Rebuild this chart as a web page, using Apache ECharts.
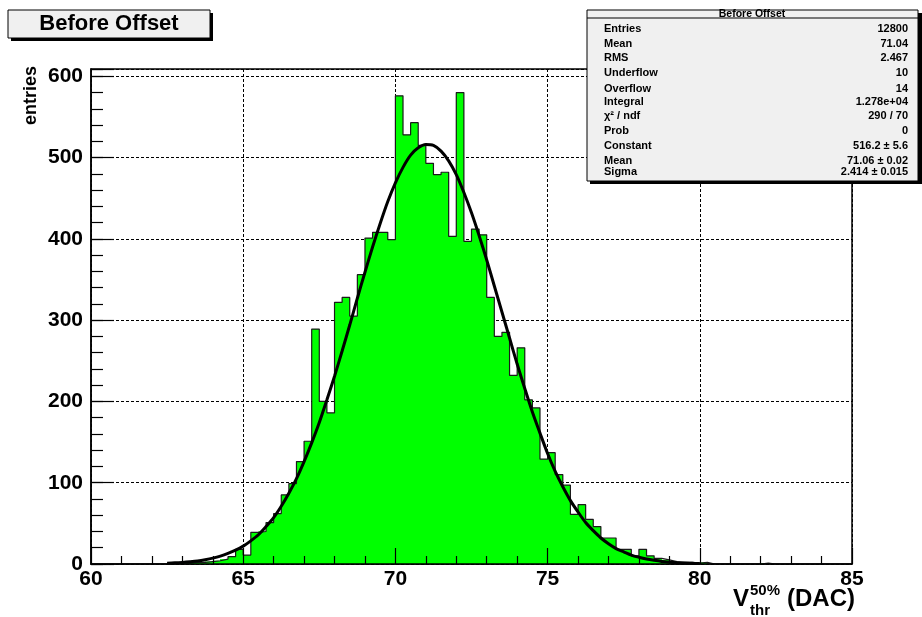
<!DOCTYPE html>
<html><head><meta charset="utf-8">
<script src="https://cdn.jsdelivr.net/npm/echarts@6/dist/echarts.min.js"></script>
<style>html,body{margin:0;padding:0;background:#fff}#c{width:922px;height:617px}</style>
</head><body><div id="c"></div>
<script>
// ---- data ----
const binLowEdge = 60;
const binWidth = 0.25;
const binCounts = [
  0,0,0,0,0,0,0,0,0,0,
  1,1,1,2,2,3,4,6,9,18,
  11,39,40,51,62,85,99,126,151,289,
  200,186,322,328,305,356,401,408,408,399,
  576,528,543,515,493,479,482,403,580,397,
  412,405,328,280,285,232,266,202,192,129,
  137,110,97,61,73,55,46,32,32,18,
  18,10,18,10,7,5,3,2,2,1,
  2,0,0,0,0,0,0,0,1,0,
  0,0,0,0,0,0,0,0,0,0
];
const xTickValues = [60, 65, 70, 75, 80, 85];
const yTickValues = [0, 100, 200, 300, 400, 500, 600];
// fit curve (x, entries)
const fitX = [62.5,62.75,63,63.25,63.5,63.75,64,64.25,64.5,64.75,65,65.25,65.5,65.75,66,66.25,66.5,66.75,67,67.25,67.5,67.75,68,68.25,68.5,68.75,69,69.25,69.5,69.75,70,70.25,70.5,70.75,71,71.25,71.5,71.75,72,72.25,72.5,72.75,73,73.25,73.5,73.75,74,74.25,74.5,74.75,75,75.25,75.5,75.75,76,76.25,76.5,76.75,77,77.25,77.5,77.75,78,78.25,78.5,78.75,79,79.25,79.5,79.75,80];
const fitY = [1,1.4,2,2.8,3.8,5.3,7.2,9.7,13,17,22,28.5,36,46,57,71,87,105,126,149,174,202,231,262,294,327,359,390,419,446,469,488,503,512,516,515,508,496,479,457,432,404,374,342,310,278,246,216,187,161,136,114,95,78,64,51,41,32,25,19,15,11,8.3,6.1,4.5,3.2,2.3,1.6,1.1,0.8,0.5];
const titleText = 'Before Offset';
const statsLabels = ['Entries','Mean','RMS','Underflow','Overflow','Integral','\u03c7\u00b2 / ndf','Prob','Constant','Mean','Sigma'];
const statsValues = ['12800','71.04','2.467','10','14','1.278e+04','290 / 70','0','516.2 \u00b1 5.6','71.06 \u00b1 0.02','2.414 \u00b1 0.015'];
const statsRowY = [29,44,57.5,73,88.5,102,116,131,146,161,172];

// ---- build ----
const histData = binCounts.map((c, i) => [binLowEdge + i * binWidth, c]);
const xMax = binLowEdge + binCounts.length * binWidth;
const outlineData = histData.concat([[xMax, binCounts[binCounts.length - 1]]]);
const fitData = fitX.map((x, i) => [x, fitY[i]]);
const yMax = Math.max(...binCounts) * 1.05;

const FONT = '"Liberation Sans", Arial, Helvetica, sans-serif';
const chart = echarts.init(document.getElementById('c'), null, {renderer: 'canvas'});

const graphic = [
  {type:'rect', z:100, shape:{x:11,y:13,width:202,height:28}, style:{fill:'#000'}},
  {type:'rect', z:101, shape:{x:8,y:10,width:202,height:28}, style:{fill:'#f0f0f0', stroke:'#000', lineWidth:1}},
  {type:'text', z:102, x:109, y:24, style:{text:titleText, font:'bold 22px ' + FONT, fill:'#000', align:'center', verticalAlign:'middle'}},
  {type:'rect', z:100, shape:{x:590,y:13,width:332,height:171}, style:{fill:'#000'}},
  {type:'rect', z:101, shape:{x:587,y:10,width:331,height:171}, style:{fill:'#f0f0f0', stroke:'#000', lineWidth:1}},
  {type:'line', z:102, shape:{x1:587,y1:18,x2:918,y2:18}, style:{stroke:'#000', lineWidth:1}},
  {type:'text', z:102, x:752, y:14, style:{text:titleText, font:'bold 10.5px ' + FONT, fill:'#000', align:'center', verticalAlign:'middle'}},
  // y axis title
  {type:'text', z:102, x:31, y:66, rotation:Math.PI/2, style:{text:'entries', font:'bold 18px ' + FONT, fill:'#000', align:'right', verticalAlign:'middle'}},
  // x axis title
  {type:'text', z:102, x:733, y:599, style:{text:'V', font:'bold 24px ' + FONT, fill:'#000', align:'left', verticalAlign:'middle'}},
  {type:'text', z:102, x:750, y:591, style:{text:'50%', font:'bold 15px ' + FONT, fill:'#000', align:'left', verticalAlign:'middle'}},
  {type:'text', z:102, x:750, y:611, style:{text:'thr', font:'bold 15px ' + FONT, fill:'#000', align:'left', verticalAlign:'middle'}},
  {type:'text', z:102, x:787, y:599, style:{text:'(DAC)', font:'bold 24px ' + FONT, fill:'#000', align:'left', verticalAlign:'middle'}}
];
statsLabels.forEach((t, i) => {
  graphic.push({type:'text', z:102, x:604, y:statsRowY[i], style:{text:t, font:'bold 11px ' + FONT, fill:'#000', align:'left', verticalAlign:'middle'}});
  graphic.push({type:'text', z:102, x:908, y:statsRowY[i], style:{text:statsValues[i], font:'bold 11px ' + FONT, fill:'#000', align:'right', verticalAlign:'middle'}});
});

const splitStyle = {show:true, lineStyle:{color:'#000', width:1, type:[3,2]}};
const labelStyle = {color:'#000', fontFamily:FONT, fontWeight:'bold', fontSize:21};

chart.setOption({
  animation:false,
  backgroundColor:'#fff',
  grid:{left:91, top:69, width:761, height:495, show:true, borderColor:'#000', borderWidth:1.5, backgroundColor:'transparent', containLabel:false},
  xAxis:[
    {type:'value', min:binLowEdge, max:xMax, interval:5, position:'bottom', z:0,
     axisLine:{show:false}, axisTick:{show:false}, axisLabel:{show:false}, splitLine:splitStyle},
    {type:'value', min:binLowEdge, max:xMax, interval:5, position:'bottom', z:10,
     axisLine:{show:true, lineStyle:{color:'#000', width:1.5}},
     axisTick:{show:true, inside:true, length:16, lineStyle:{color:'#000', width:1.2}},
     minorTick:{show:true, splitNumber:5, length:8, lineStyle:{color:'#000', width:1.2}},
     axisLabel:Object.assign({margin:5, formatter:v => xTickValues.includes(v) ? String(v) : ''}, labelStyle),
     splitLine:{show:false}}
  ],
  yAxis:[
    {type:'value', min:0, max:yMax, interval:100, position:'left', z:0,
     axisLine:{show:false}, axisTick:{show:false}, axisLabel:{show:false},
     splitLine:splitStyle},
    {type:'value', min:0, max:yMax, interval:100, position:'left', z:10,
     axisLine:{show:true, lineStyle:{color:'#000', width:1.5}},
     axisTick:{show:true, inside:true, length:23, lineStyle:{color:'#000', width:1.2}},
     axisLabel:Object.assign({margin:8, formatter:v => yTickValues.includes(v) ? String(v) : ''}, labelStyle),
     splitLine:{show:false}},
    {type:'value', min:0, max:yMax, interval:20, position:'left', z:10,
     axisLine:{show:false},
     axisTick:{show:true, inside:true, length:12, lineStyle:{color:'#000', width:1.2}},
     axisLabel:{show:false}, splitLine:{show:false}}
  ],
  graphic:graphic,
  series:[
    {type:'custom', xAxisIndex:0, yAxisIndex:0, z:2, clip:true,
     renderItem:function(params, api){
       const x0 = api.value(0), v = api.value(1);
       if (!v) return null;
       const p0 = api.coord([x0, 0]);
       const p1 = api.coord([x0 + binWidth, v]);
       const xl = Math.round(p0[0]), xr = Math.round(p1[0]);
       return {type:'rect', shape:{x:xl, y:p1[1], width:xr - xl, height:p0[1] - p1[1]}, style:{fill:'#00ff00'}};
     },
     data:histData},
    {type:'line', xAxisIndex:0, yAxisIndex:0, z:3, step:'end', showSymbol:false, symbol:'none',
     lineStyle:{color:'#1a1a1a', width:1.2}, data:outlineData},
    {type:'line', xAxisIndex:0, yAxisIndex:0, z:4, smooth:0.3, showSymbol:false, symbol:'none',
     lineStyle:{color:'#000', width:3}, data:fitData}
  ]
});
</script></body></html>
